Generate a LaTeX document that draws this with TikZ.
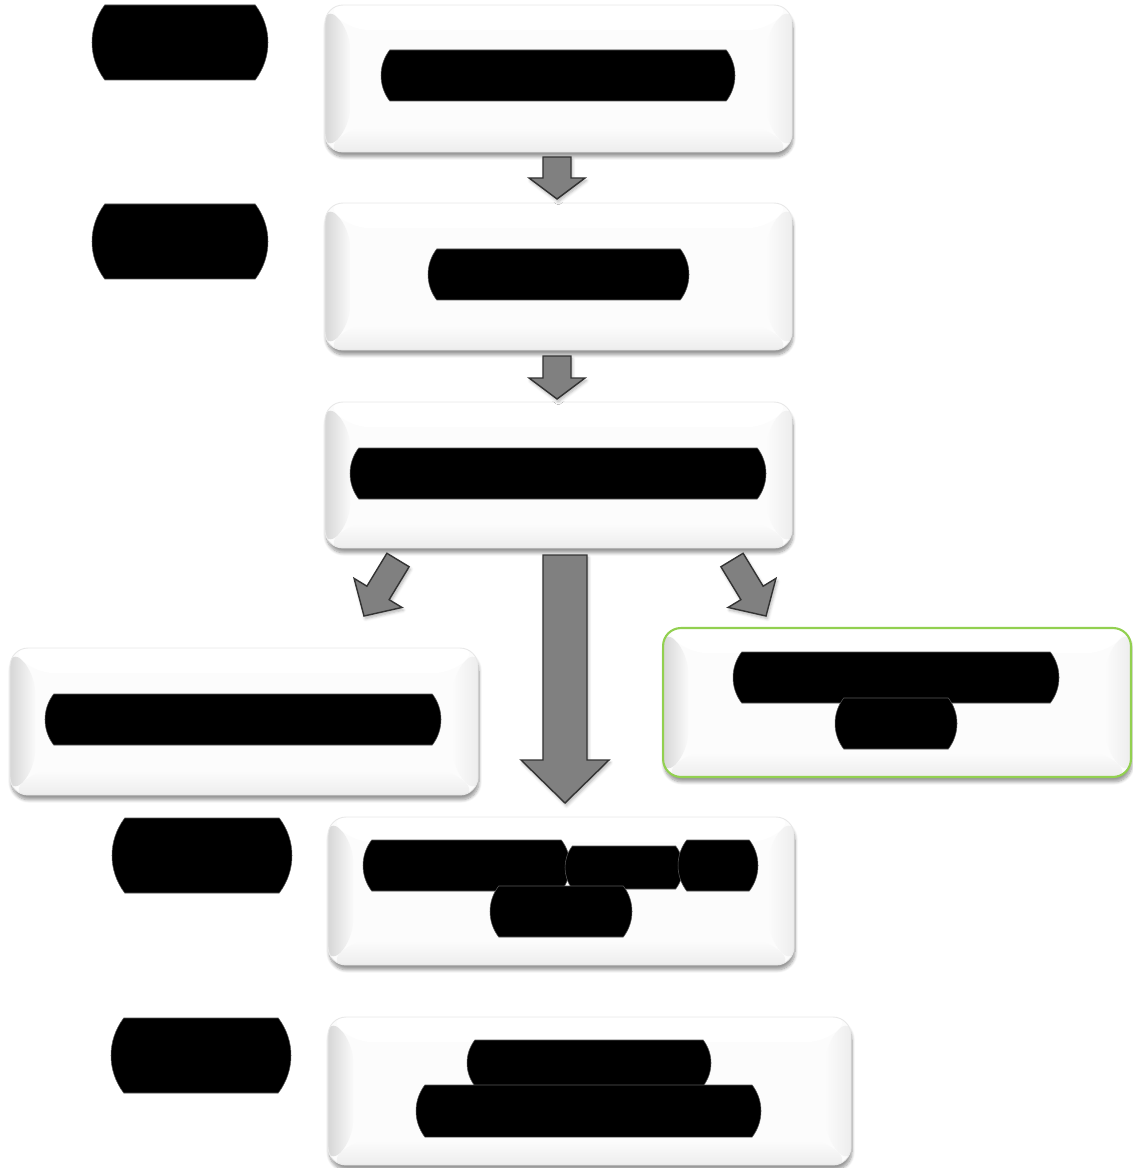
\documentclass[tikz,border=0pt]{standalone}
\usetikzlibrary{calc,shadows.blur}
\definecolor{arrowgray}{HTML}{808080}
\definecolor{greenedge}{HTML}{92D050}
\newcommand\bev{0.5cm}
\tikzset{
  card/.style={draw=gray!18, line width=0.5pt, fill=white, rounded corners=0.36cm,
    inner sep=0pt,
    blur shadow={shadow xshift=0.6pt, shadow yshift=-2.8pt, shadow blur steps=8, shadow opacity=40},
    path picture={
      \fill[gray!2] (path picture bounding box.south west) rectangle (path picture bounding box.north east);
      \shade[top color=gray!2, bottom color=gray!14]
        (path picture bounding box.south west) -- ($(path picture bounding box.south west)+(\bev,\bev)$)
        -- ($(path picture bounding box.south east)+(-\bev,\bev)$) -- (path picture bounding box.south east) -- cycle;
      \shade[left color=gray!3, right color=gray!14]
        (path picture bounding box.north east) -- ($(path picture bounding box.north east)+(-\bev,-\bev)$)
        -- ($(path picture bounding box.south east)+(-\bev,\bev)$) -- (path picture bounding box.south east) -- cycle;
      \shade[left color=gray!32, right color=gray!4]
        (path picture bounding box.north west) -- ($(path picture bounding box.north west)+(\bev,-\bev)$)
        -- ($(path picture bounding box.south west)+(\bev,\bev)$) -- (path picture bounding box.south west) -- cycle;
      \fill[white]
        (path picture bounding box.north west) -- ($(path picture bounding box.north west)+(\bev,-\bev)$)
        -- ($(path picture bounding box.north east)+(-\bev,-\bev)$) -- (path picture bounding box.north east) -- cycle;
    }},
  greencard/.style={card, draw=greenedge, line width=1.2pt},
  redactbar/.style={fill=black, draw=black!65, line width=0.3pt},
  blockarr/.style={fill=arrowgray, draw=black!80, line width=0.8pt, line join=miter,
    blur shadow={shadow xshift=0.8pt, shadow yshift=-1.5pt, shadow blur steps=5, shadow opacity=30}}
}
% redaction bar: x1, x2, top, bottom (pixels)
\newcommand\redact[4]{%
  \pgfmathsetmacro\rd{0.17*(#4-#3)}%
  \pgfmathsetmacro\rc{\rd/3}%
  \pgfmathsetmacro\rh{0.3*(#4-#3)}%
  \filldraw[redactbar] ({#1+\rd},#3) -- ({#2-\rd},#3)
    .. controls ({#2+\rc},{#3+\rh}) and ({#2+\rc},{#4-\rh}) .. ({#2-\rd},#4)
    -- ({#1+\rd},#4)
    .. controls ({#1-\rc},{#4-\rh}) and ({#1-\rc},{#3+\rh}) .. ({#1+\rd},#3) -- cycle;}
% block arrow: tail, tip, shaft half width, head half width, head length
\newcommand\blockarrow[5]{%
  \path ($(#2)!#5!(#1)$) coordinate (ba-base);
  \filldraw[blockarr] ($(#1)!#3!90:(#2)$) -- ($(ba-base)!#3!90:(#2)$) -- ($(ba-base)!#4!90:(#2)$)
    -- (#2) -- ($(ba-base)!#4!-90:(#2)$) -- ($(ba-base)!#3!-90:(#2)$) -- ($(#1)!#3!-90:(#2)$) -- cycle;}
\begin{document}
\begin{tikzpicture}[x=0.02cm, y=-0.02cm]
\useasboundingbox (0,0) rectangle (1132,1168);
% boxes
\node[card, minimum width=9.34cm, minimum height=2.94cm] (b1) at (558.5,78.5) {};
\node[card, minimum width=9.34cm, minimum height=2.94cm] (b2) at (558.5,276.5) {};
\node[card, minimum width=9.34cm, minimum height=2.92cm] (b3) at (558.5,475) {};
\node[card, minimum width=9.36cm, minimum height=2.94cm] (b4) at (244,721.5) {};
\node[greencard, minimum width=9.36cm, minimum height=2.98cm] (b5) at (897,702.5) {};
\node[card, minimum width=9.32cm, minimum height=2.96cm] (b6) at (561,891) {};
\node[card, minimum width=10.46cm, minimum height=2.96cm] (b7) at (589.5,1091) {};
% arrow end points
\coordinate (a1t) at (557,157); \coordinate (a1h) at (557,199);
\coordinate (a2t) at (557,356); \coordinate (a2h) at (557,399);
\coordinate (a3t) at (565,555); \coordinate (a3h) at (565,803);
\coordinate (a4t) at (398,560); \coordinate (a4h) at (364,616);
\coordinate (a5t) at (732,560); \coordinate (a5h) at (766,616);
\blockarrow{a1t}{a1h}{0.28cm}{0.56cm}{0.42cm}
\blockarrow{a2t}{a2h}{0.28cm}{0.56cm}{0.42cm}
\blockarrow{a3t}{a3h}{0.44cm}{0.88cm}{0.86cm}
\blockarrow{a4t}{a4h}{0.26cm}{0.56cm}{0.54cm}
\blockarrow{a5t}{a5h}{0.26cm}{0.56cm}{0.54cm}
% side labels
\redact{92}{268}{5}{80}
\redact{92}{268}{204}{279}
\redact{112}{292}{818}{893}
\redact{111}{291}{1018}{1093}
% box texts
\redact{381}{735}{50}{101}
\redact{428}{689}{249}{300}
\redact{350}{766}{448}{499}
\redact{45}{441}{694}{745}
\redact{733}{1059}{652}{703}
\redact{835}{957}{698}{749}
\redact{363}{570}{840}{891}
\redact{565}{683}{846}{889}
\redact{678}{758}{840}{891}
\redact{490}{632}{886}{937}
\redact{467}{711}{1040}{1086}
\redact{416}{761}{1085}{1137}
\end{tikzpicture}
\end{document}
